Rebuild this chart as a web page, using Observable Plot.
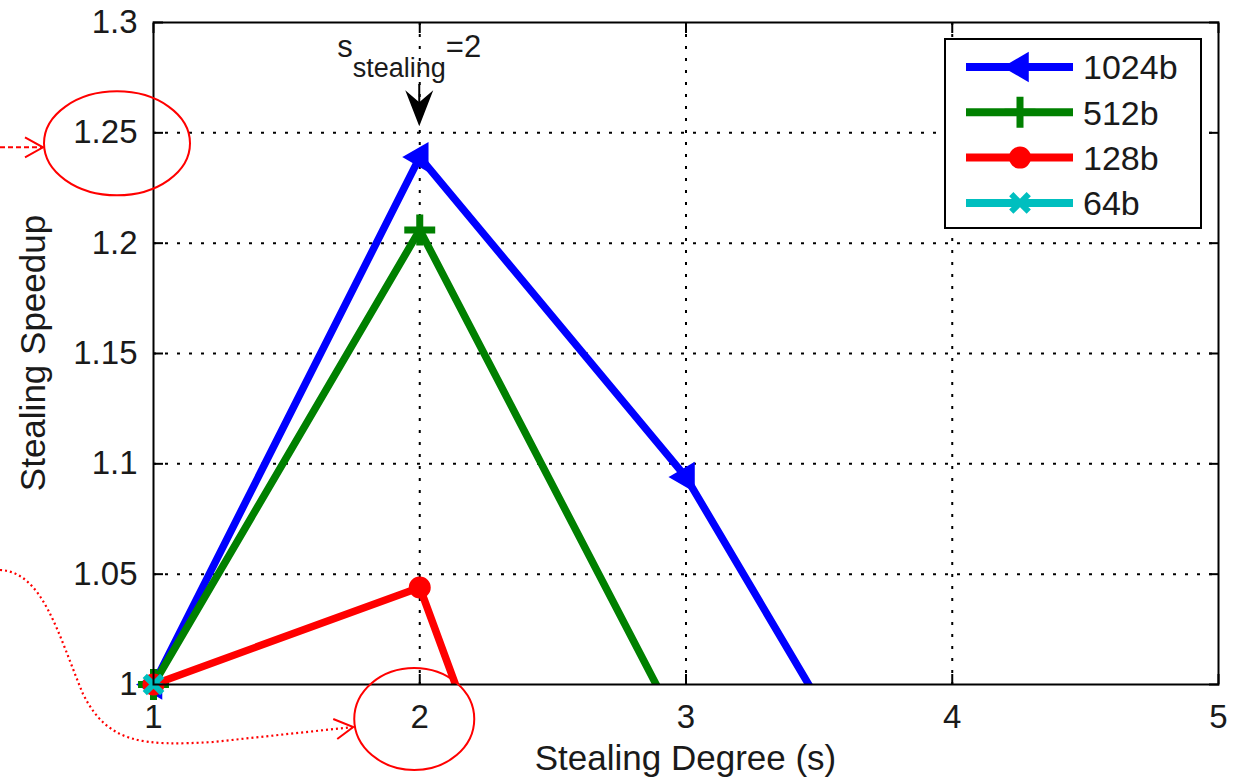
<!DOCTYPE html>
<html><head><meta charset="utf-8">
<script src="https://cdn.jsdelivr.net/npm/d3@7"></script>
<script src="https://cdn.jsdelivr.net/npm/@observablehq/plot@0.6"></script>
<style>body{margin:0;background:#fff} svg{display:block}</style>
</head><body><div id="chart"></div>
<script>
// ---- data ----
const degrees = [1, 2, 3, 4];
const seriesNames = ["1024b", "512b", "128b", "64b"];
const speedup1024 = [1, 1.239, 1.094, 0.89];
const speedup512 = [1, 1.206, 0.974, 0.80];
const speedup128 = [1, 1.044, 0.716, 0.62];
const speedup64 = [1, 0.96, 0.93, 0.90];
const seriesColors = ["#0000FF", "#008000", "#FF0000", "#00BFBF"];
const xTicks = [1, 2, 3, 4, 5];
const yTicks = [1, 1.05, 1.1, 1.15, 1.2, 1.25, 1.3];
const yTickLabels = ["1", "1.05", "1.1", "1.15", "1.2", "1.25", "1.3"];
const xLabel = "Stealing Degree (s)";
const yLabel = "Stealing Speedup";

const allValues = [speedup1024, speedup512, speedup128, speedup64];
const rows = [];
seriesNames.forEach((name, i) => degrees.forEach((d, j) => rows.push({series: name, x: d, y: allValues[i][j]})));
const visible = d => d.y >= 1;

const font = "'Liberation Sans', Arial, Helvetica, sans-serif";
const gridStyle = {stroke: "black", strokeOpacity: 1, strokeWidth: 2, strokeDasharray: "3,9"};
const tickStyle = {tickFormat: () => "", label: null, tickSize: -10, strokeWidth: 2, stroke: "black"};

const markerSpec = {
  "1024b": {symbol: "triangle", r: 10, rotate: -90, fill: seriesColors[0], stroke: seriesColors[0], strokeWidth: 2},
  "512b": {symbol: "plus", r: 10, fill: "none", stroke: seriesColors[1], strokeWidth: 7},
  "128b": {symbol: "circle", r: 10, fill: seriesColors[2], stroke: seriesColors[2], strokeWidth: 2},
  "64b": {symbol: "times", r: 8, fill: "none", stroke: seriesColors[3], strokeWidth: 6}
};

const seriesMarks = seriesNames.flatMap((name, i) => {
  const data = rows.filter(r => r.series === name);
  return [
    Plot.line(data, {x: "x", y: "y", stroke: seriesColors[i], strokeWidth: 7.5, clip: true, strokeLinejoin: "round"}),
    Plot.dot(data.filter(visible), {x: "x", y: "y", ...markerSpec[name]})
  ];
});

const chart = Plot.plot({
  width: 1239, height: 782,
  marginLeft: 153, marginRight: 21, marginTop: 22, marginBottom: 98,
  style: {fontFamily: font, fontSize: "33px", color: "#1a1a1a", background: "white"},
  x: {domain: [1, 5]},
  y: {domain: [1, 1.3]},
  marks: [
    Plot.gridX({ticks: xTicks.slice(1, -1), ...gridStyle}),
    Plot.gridY({ticks: yTicks.slice(1, -1), ...gridStyle}),
    Plot.axisX({ticks: xTicks, tickSize: 0, tickPadding: 20, tickFormat: d => String(d), label: null}),
    Plot.axisY({ticks: yTicks, tickSize: 0, tickPadding: 16, tickFormat: d => yTickLabels[yTicks.indexOf(d)], label: null}),
    Plot.axisX({ticks: xTicks, anchor: "bottom", ...tickStyle}),
    Plot.axisX({ticks: xTicks, anchor: "top", ...tickStyle}),
    Plot.axisY({ticks: yTicks, anchor: "left", ...tickStyle}),
    Plot.axisY({ticks: yTicks, anchor: "right", ...tickStyle}),
    ...seriesMarks,
    Plot.frame({stroke: "black", strokeWidth: 2})
  ]
});
document.getElementById("chart").append(chart);

// ---- annotations, positioned from the scales ----
const xs = chart.scale("x"), ys = chart.scale("y");
const X = v => xs.apply(v), Y = v => ys.apply(v);
const svg = d3.select(chart);
const g = svg.append("g").attr("font-family", font).attr("text-anchor", "start");

// axis labels
g.append("text").attr("x", (X(1) + X(5)) / 2).attr("y", Y(1) + 86)
  .attr("text-anchor", "middle").attr("font-size", 35).attr("fill", "#1a1a1a").text(xLabel);
g.append("text").attr("transform", `translate(${X(1) - 108},${(Y(1) + Y(1.3)) / 2}) rotate(-90)`)
  .attr("text-anchor", "middle").attr("font-size", 35).attr("fill", "#1a1a1a").text(yLabel);

// legend
const lx = X(5) - 273, ly = Y(1.3) + 17;
const lg = g.append("g").attr("transform", `translate(${lx},${ly})`);
lg.append("rect").attr("x", 0).attr("y", 0).attr("width", 256).attr("height", 189)
  .attr("fill", "white").attr("stroke", "black").attr("stroke-width", 2);
const symType = {triangle: d3.symbolTriangle, plus: d3.symbolPlus, circle: d3.symbolCircle, times: d3.symbolTimes};
seriesNames.forEach((name, i) => {
  const yy = 28 + i * 45.3;
  lg.append("line").attr("x1", 21).attr("x2", 128).attr("y1", yy).attr("y2", yy)
    .attr("stroke", seriesColors[i]).attr("stroke-width", 8);
  const m = markerSpec[name];
  lg.append("path").attr("d", d3.symbol(symType[m.symbol], Math.PI * m.r * m.r)())
    .attr("transform", `translate(75,${yy}) rotate(${m.rotate || 0})`)
    .attr("fill", m.fill).attr("stroke", m.stroke).attr("stroke-width", m.strokeWidth);
  lg.append("text").attr("x", 138).attr("y", yy).attr("dy", "0.36em").attr("text-anchor", "start")
    .attr("font-size", 34).attr("fill", "#1a1a1a").text(name);
});

// s_stealing = 2 annotation with arrow
const ax = X(2);
const t = g.append("text").attr("x", ax - 82).attr("y", Y(1.3) + 35).attr("text-anchor", "start")
  .attr("font-size", 31).attr("fill", "#1a1a1a");
t.append("tspan").text("s");
t.append("tspan").attr("dy", 20).attr("font-size", 27).text("stealing");
t.append("tspan").attr("dy", -20).text("=2");
g.append("line").attr("x1", ax).attr("x2", ax).attr("y1", Y(1.3) + 62).attr("y2", Y(1.25) - 10)
  .attr("stroke", "black").attr("stroke-width", 2);
g.append("path").attr("d", `M${ax},${Y(1.25) - 6} L${ax - 14},${Y(1.25) - 42} L${ax},${Y(1.25) - 30} L${ax + 14},${Y(1.25) - 42} Z`)
  .attr("fill", "black");

// red highlight ellipses and arrows
const red = "#FF0000";
g.append("ellipse").attr("cx", X(1) - 36).attr("cy", Y(1.25) + 11).attr("rx", 73).attr("ry", 52)
  .attr("fill", "none").attr("stroke", red).attr("stroke-width", 2);
const ay = Y(1.25) + 15, tipX = X(1) - 110;
g.append("line").attr("x1", 0).attr("x2", tipX).attr("y1", ay).attr("y2", ay)
  .attr("stroke", red).attr("stroke-width", 2).attr("stroke-dasharray", "5,3");
g.append("path").attr("d", `M${tipX - 18},${ay - 10} L${tipX},${ay} L${tipX - 18},${ay + 10}`)
  .attr("fill", "none").attr("stroke", red).attr("stroke-width", 2);

g.append("ellipse").attr("cx", X(2) - 5).attr("cy", Y(1) + 35).attr("rx", 60).attr("ry", 51)
  .attr("fill", "none").attr("stroke", red).attr("stroke-width", 2);
const c0x = X(1), c0y = Y(1);
const curve = `M0,${c0y - 114} C${c0x - 110},${c0y - 112} ${c0x - 95},${c0y - 50} ${c0x - 70},${c0y + 10}
  C${c0x - 45},${c0y + 60} ${c0x - 10},${c0y + 62} ${c0x + 60},${c0y + 58} L${X(2) - 66},${c0y + 43}`;
g.append("path").attr("d", curve).attr("fill", "none").attr("stroke", red).attr("stroke-width", 2.2)
  .attr("stroke-dasharray", "2,3");
const tx2 = X(2) - 66, ty2 = c0y + 43;
g.append("path").attr("d", `M${tx2 - 20},${ty2 - 8} L${tx2},${ty2} L${tx2 - 16},${ty2 + 12}`)
  .attr("fill", "none").attr("stroke", red).attr("stroke-width", 2);
</script>
</body></html>
